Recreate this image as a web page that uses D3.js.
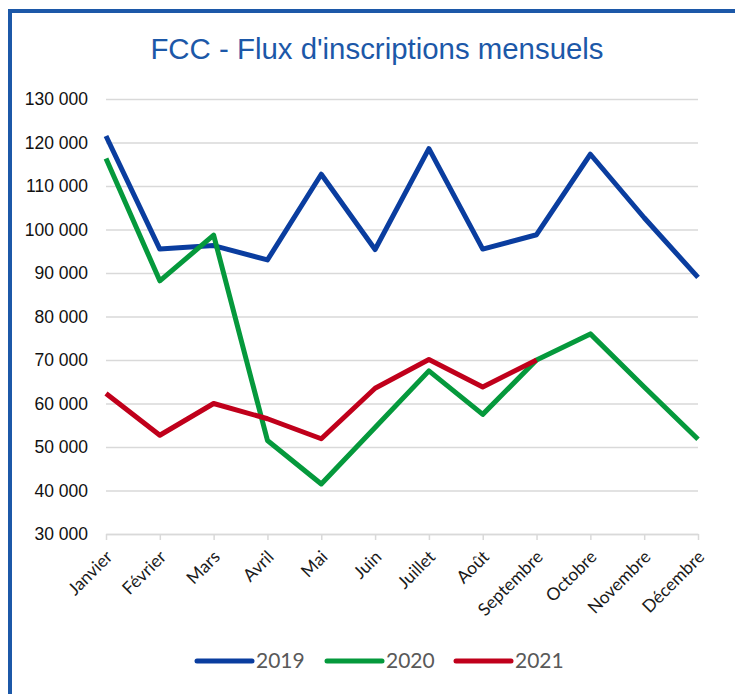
<!DOCTYPE html>
<html>
<head>
<meta charset="utf-8">
<script src="https://cdn.jsdelivr.net/npm/d3@7"></script>
<style>
html,body{margin:0;padding:0;background:#fff;}
svg{display:block;}
</style>
</head>
<body>
<svg id="chart" width="735" height="694"></svg>
<script>
const months = ["Janvier","Février","Mars","Avril","Mai","Juin","Juillet","Août","Septembre","Octobre","Novembre","Décembre"];
const values2019 = [121500, 95500, 96300, 93000, 112700, 95400, 118600, 95500, 98800, 117300, 102700, 89000];
const values2020 = [116300, 88200, 98700, 51500, 41500, 54500, 67500, 57500, 70000, 76000, 63800, 51800];
const values2021 = [62300, 52700, 60000, 56500, 51900, 63500, 70100, 63800, 70000];
const yTicks = [30000, 40000, 50000, 60000, 70000, 80000, 90000, 100000, 110000, 120000, 130000];
const seriesNames = ["2019", "2020", "2021"];
const seriesColors = ["#0a3d9f", "#05993c", "#c0001b"];
const title = "FCC - Flux d'inscriptions mensuels";

const svg = d3.select("#chart");

// frame
svg.append("rect")
  .attr("x", 10).attr("y", 11)
  .attr("width", 780).attr("height", 720)
  .attr("fill", "none")
  .attr("stroke", "#1c58a8")
  .attr("stroke-width", 4);

const x = d3.scalePoint().domain(months).range([106, 698]);
const y = d3.scaleLinear().domain([30000, 130000]).range([534, 99]);

// title
svg.append("text")
  .attr("x", 377).attr("y", 59)
  .attr("text-anchor", "middle")
  .attr("font-family", "'Liberation Sans', Arial, sans-serif")
  .attr("font-size", 29.4)
  .attr("fill", "#1c58a8")
  .text(title);

// gridlines
const fmt = v => d3.format(",")(v).replace(/,/g, " ");
const yAxis = d3.axisLeft(y).tickValues(yTicks).tickSize(-(698 - 106)).tickPadding(18).tickFormat(fmt);
const gy = svg.append("g").attr("transform", "translate(106,0)").call(yAxis);
gy.select(".domain").remove();
gy.selectAll(".tick line").attr("stroke", "#d9d9d9").attr("stroke-width", 1.5);
gy.selectAll(".tick text")
  .attr("font-family", "'Liberation Sans', Arial, sans-serif")
  .attr("font-size", 17.5)
  .attr("fill", "#111");

// x axis
const xAxis = d3.axisBottom(x).tickSize(6).tickSizeOuter(0);
const gx = svg.append("g").attr("transform", "translate(0,534)").call(xAxis);
gx.select(".domain").attr("stroke", "#d9d9d9").attr("stroke-width", 1.5);
gx.selectAll(".tick line").attr("stroke", "#d9d9d9").attr("stroke-width", 1.5);
gx.selectAll(".tick text")
  .attr("font-family", "Lato, 'Open Sans', sans-serif")
  .attr("font-size", 17.5)
  .attr("fill", "#1a1a1a")
  .attr("text-anchor", "end")
  .attr("dy", null)
  .attr("y", 0)
  .attr("transform", "translate(7,24) rotate(-45)");

// lines
const line = d3.line()
  .x((d, i) => x(months[i]))
  .y(d => y(d));

const allSeries = [values2019, values2020, values2021];
allSeries.forEach((vals, k) => {
  svg.append("path")
    .datum(vals)
    .attr("d", line)
    .attr("fill", "none")
    .attr("stroke", seriesColors[k])
    .attr("stroke-width", 5)
    .attr("stroke-linejoin", "round");
});

// legend
const legendX = [197, 327, 456];
const lg = svg.append("g");
seriesNames.forEach((n, k) => {
  lg.append("line")
    .attr("x1", legendX[k]).attr("x2", legendX[k] + 55)
    .attr("y1", 661).attr("y2", 661)
    .attr("stroke", seriesColors[k])
    .attr("stroke-width", 5)
    .attr("stroke-linecap", "round");
  lg.append("text")
    .attr("x", legendX[k] + 59).attr("y", 668)
    .attr("font-family", "Lato, 'Open Sans', sans-serif")
    .attr("font-size", 21)
    .attr("fill", "#595959")
    .text(n);
});
</script>
</body>
</html>
